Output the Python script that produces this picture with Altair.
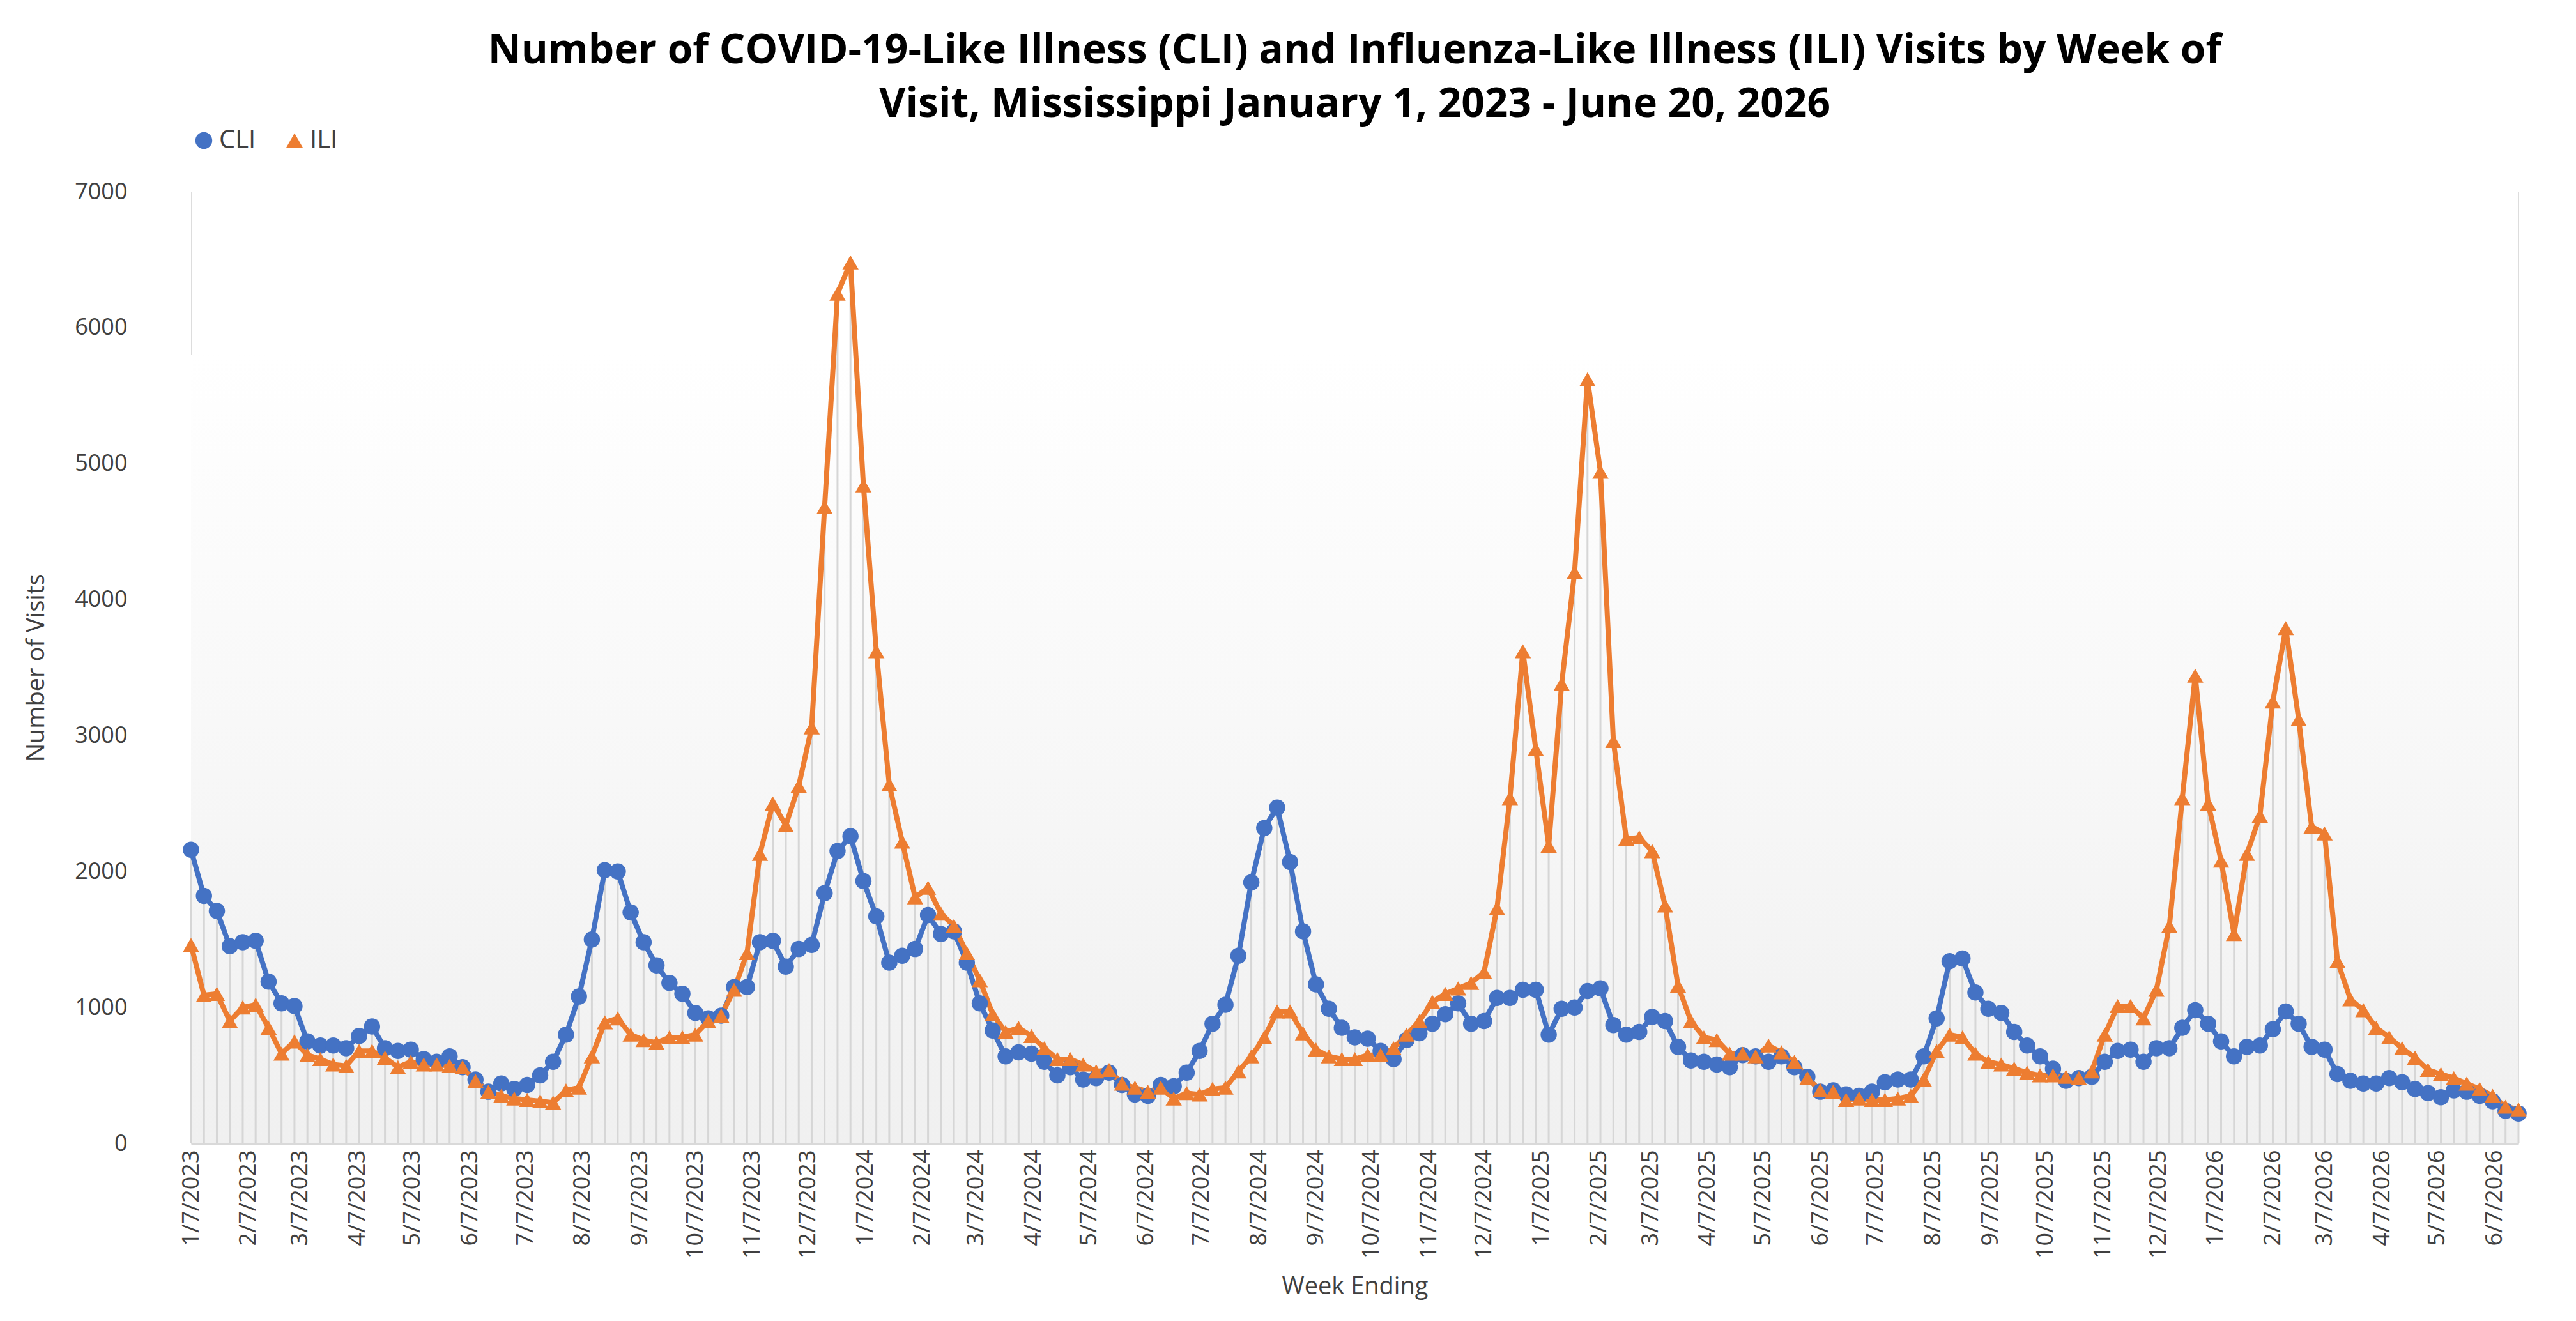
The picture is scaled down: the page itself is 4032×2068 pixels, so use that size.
import altair as alt
import pandas as pd

# weekly visit counts, week ending 1/7/2023 .. 6/20/2026
cli = [2160, 1820, 1710, 1450, 1480, 1490, 1190, 1030, 1010, 750,
       720, 720, 700, 790, 860, 700, 680, 690, 620, 600,
       640, 560, 470, 380, 440, 400, 430, 500, 600, 800,
       1080, 1500, 2010, 2000, 1700, 1480, 1310, 1180, 1100, 960,
       920, 940, 1150, 1150, 1480, 1490, 1300, 1430, 1460, 1840,
       2150, 2260, 1930, 1670, 1330, 1380, 1430, 1680, 1540, 1560,
       1330, 1030, 830, 640, 670, 660, 600, 500, 560, 470,
       480, 520, 430, 360, 350, 430, 420, 520, 680, 880,
       1020, 1380, 1920, 2320, 2470, 2070, 1560, 1170, 990, 850,
       780, 770, 680, 620, 760, 810, 880, 950, 1030, 880,
       900, 1070, 1070, 1130, 1130, 800, 990, 1000, 1120, 1140,
       870, 800, 820, 930, 900, 710, 610, 600, 580, 560,
       650, 640, 600, 640, 560, 490, 380, 390, 360, 350,
       380, 450, 470, 470, 640, 920, 1340, 1360, 1110, 990,
       960, 820, 720, 640, 550, 460, 480, 490, 600, 680,
       690, 600, 700, 700, 850, 980, 880, 750, 640, 710,
       720, 840, 970, 880, 710, 690, 510, 460, 440, 440,
       480, 450, 400, 370, 340, 390, 380, 350, 310, 240,
       220]

ili = [1460, 1090, 1100, 900, 1000, 1020, 850, 660, 750, 650,
       620, 580, 570, 680, 680, 630, 560, 600, 580, 580,
       570, 560, 460, 380, 350, 330, 320, 310, 300, 390,
       410, 640, 890, 920, 800, 760, 740, 780, 780, 800,
       900, 940, 1130, 1400, 2130, 2500, 2340, 2630, 3060, 4680,
       6250, 6480, 4840, 3620, 2640, 2220, 1810, 1880, 1690, 1600,
       1400, 1200, 950, 820, 850, 790, 700, 620, 620, 580,
       530, 540, 440, 410, 380, 410, 330, 370, 360, 400,
       410, 530, 640, 780, 970, 970, 810, 690, 640, 620,
       620, 650, 650, 700, 800, 900, 1040, 1100, 1140, 1180,
       1260, 1730, 2540, 3620, 2900, 2190, 3380, 4200, 5620, 4940,
       2960, 2240, 2250, 2150, 1750, 1160, 900, 780, 760, 660,
       660, 640, 720, 670, 600, 480, 390, 380, 320, 330,
       320, 320, 330, 350, 470, 680, 800, 780, 660, 600,
       580, 550, 520, 500, 500, 490, 480, 530, 800, 1010,
       1010, 920, 1130, 1600, 2540, 3440, 2500, 2080, 1540, 2130,
       2410, 3250, 3790, 3120, 2330, 2280, 1340, 1060, 980, 850,
       780, 700, 630, 540, 510, 480, 440, 400, 350, 270,
       250]

weeks = pd.date_range("2023-01-07", periods=len(cli), freq="7D")
tick_dates = pd.date_range("2023-01-01", "2026-06-07", freq="MS") + pd.Timedelta(days=6)

wide = pd.DataFrame({"week": weeks, "CLI": cli, "ILI": ili})
wide["top"] = wide[["CLI", "ILI"]].max(axis=1)
long = wide.melt(id_vars="week", value_vars=["CLI", "ILI"], var_name="series", value_name="visits")

blue, orange = "#4472C4", "#ED7D31"
font = "Open Sans"

x_scale = alt.Scale(domain=[weeks[0].isoformat(), weeks[-1].isoformat()], nice=False)
x_axis = alt.Axis(
    values=[alt.DateTime(year=d.year, month=d.month, date=d.day) for d in tick_dates],
    format="%-m/%-d/%Y", labelAngle=-90, labelLimit=175, labelFontSize=36,
    labelOverlap=False, labelFlush=False, labelBound=False,
    labelColor="#404040", labelFont=font, domainColor="#d9d9d9", domainWidth=3,
    ticks=False, grid=False, title="Week Ending", titleFontSize=38,
    titleFontWeight="normal", titleFont=font, titleY=205, titleColor="#404040",
    labelPadding=10,
)
y_scale = alt.Scale(domain=[0, 7000])
y_axis = alt.Axis(values=list(range(0, 7001, 1000)), format="d", grid=False, domain=False, ticks=False,
                  labelFontSize=36, labelColor="#404040", labelFont=font, labelPadding=100,
                  title="Number of Visits", titleFontSize=38, titleFontWeight="normal",
                  titleFont=font, titleColor="#404040", titlePadding=40)

bg = pd.DataFrame({"a": [weeks[0]], "b": [weeks[-1]], "lo": [0], "hi": [5800]})
background = alt.Chart(bg).mark_rect(
    fill={"gradient": "linear", "x1": 0, "x2": 0, "y1": 1, "y2": 0,
          "stops": [{"offset": 0, "color": "#f0f0f0"}, {"offset": 1, "color": "#ffffff"}]}
).encode(
    x=alt.X("a:T", scale=x_scale, axis=x_axis), x2="b:T",
    y=alt.Y("lo:Q", scale=y_scale, axis=y_axis), y2="hi:Q",
)

drops = alt.Chart(wide).mark_rule(color="#d6d6d6", strokeWidth=3).encode(
    x="week:T", y=alt.Y("top:Q"), y2=alt.datum(0),
)

legend = alt.Legend(orient="top", title=None, labelFontSize=40, labelFont=font,
                    labelColor="#404040", symbolSize=700, symbolStrokeWidth=0,
                    columnPadding=40, offset=60)
color_scale = alt.Scale(domain=["CLI", "ILI"], range=[blue, orange])
color = alt.Color("series:N", scale=color_scale, legend=legend)
shape = alt.Shape("series:N", scale=alt.Scale(domain=["CLI", "ILI"], range=["circle", "triangle-up"]),
                  legend=legend)

lines = alt.Chart(long).mark_line(strokeWidth=8).encode(
    x="week:T", y="visits:Q", color=color,
)
points = alt.Chart(long).mark_point(filled=True, size=650, opacity=1).encode(
    x="week:T", y="visits:Q", color=color, shape=shape,
)

chart = alt.layer(background, drops, lines, points).properties(
    width=4010, height=2045,
    autosize=alt.AutoSizeParams(type="fit", contains="padding"),
    padding={"left": 30, "right": 60, "top": 40, "bottom": 20},
    title=alt.TitleParams(
        ["Number of COVID-19-Like Illness (CLI) and Influenza-Like Illness (ILI) Visits by Week of",
         "Visit, Mississippi January 1, 2023 - June 20, 2026"],
        fontSize=64, font=font, fontWeight="bold", color="#000000", anchor="middle", lineHeight=84,
    ),
).configure_view(stroke=None).configure(background="white")

chart.save("out.html", embed_options={"renderer": "svg", "actions": False})
